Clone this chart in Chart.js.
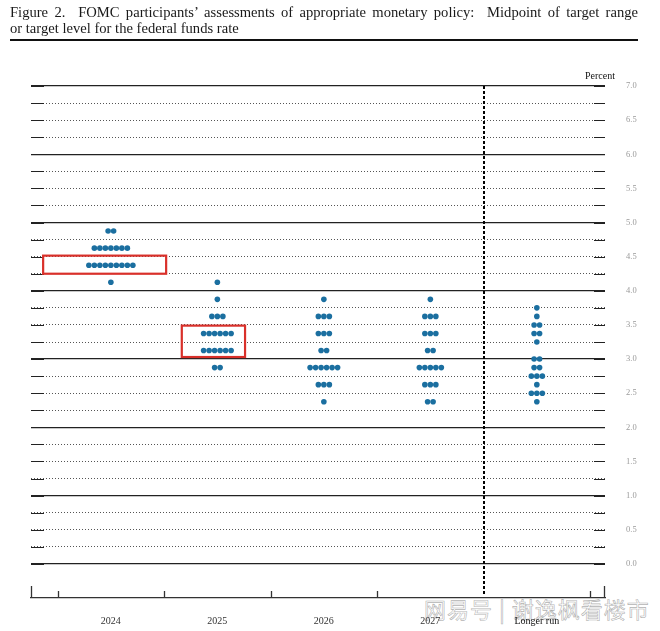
<!DOCTYPE html>
<html lang="en">
<head>
<meta charset="UTF-8">
<title>FOMC dot plot</title>
<script src="https://cdn.jsdelivr.net/npm/chart.js@4.4.1/dist/chart.umd.min.js"></script>
<style>
  body { margin: 0; background: #fff; }
  .wrap { position: relative; width: 660px; height: 631px; overflow: hidden; }
  #grafico { position: absolute; left: 0; top: 0; }
  .titulo {
    position: absolute; left: 10px; top: 4px; width: 628px;
    font-family: 'Liberation Serif', serif; font-size: 14.6px; line-height: 16px; color: #1a1a1a;
  }
  .titulo .l1 { text-align: justify; text-align-last: justify; }
  .regua { position: absolute; left: 10px; top: 39px; width: 628px; height: 2px; background: #111; }
  /* marca d'agua do repost, fica atras do canvas */
  .marca {
    position: absolute; left: 424px; top: 592px;
    font-family: 'Noto Sans CJK SC', sans-serif; font-size: 22px; letter-spacing: 1px;
    color: rgba(255,255,255,0.5); -webkit-text-stroke: 0.6px rgba(120,120,120,0.6);
  }
</style>
</head>
<body>
<div class="wrap">
  <div class="marca">网易号 | 谢逸枫看楼市</div>
  <canvas id="grafico" width="660" height="631"></canvas>
  <div class="titulo">
    <div class="l1">Figure 2.&nbsp; FOMC participants’ assessments of appropriate monetary policy:&nbsp; Midpoint of target range</div>
    <div>or target level for the federal funds rate</div>
  </div>
  <div class="regua"></div>
</div>

<script>
// categorias e pontos (nivel da taxa, quantidade de participantes)
const categories = ['2024', '2025', '2026', '2027', 'Longer run'];

const levels2024 = [4.875, 4.625, 4.375, 4.125];
const counts2024 = [2, 7, 9, 1];

const levels2025 = [4.125, 3.875, 3.625, 3.375, 3.125, 2.875];
const counts2025 = [1, 1, 3, 6, 6, 2];

const levels2026 = [3.875, 3.625, 3.375, 3.125, 2.875, 2.625, 2.375];
const counts2026 = [1, 3, 3, 2, 6, 3, 1];

const levels2027 = [3.875, 3.625, 3.375, 3.125, 2.875, 2.625, 2.375];
const counts2027 = [1, 3, 3, 2, 5, 3, 2];

const levelsLonger = [3.75, 3.625, 3.5, 3.375, 3.25, 3.0, 2.875, 2.75, 2.625, 2.5, 2.375];
const countsLonger = [1, 1, 2, 2, 1, 2, 2, 3, 1, 3, 1];

const yTickLabels = ['0.0', '0.5', '1.0', '1.5', '2.0', '2.5', '3.0', '3.5', '4.0', '4.5', '5.0', '5.5', '6.0', '6.5', '7.0'];

// caixas vermelhas (em unidades dos eixos)
const highlights = [
  { x0: -0.636, x1: 0.519, y0: 4.25, y1: 4.515 },
  { x0: 0.666, x1: 1.26, y0: 3.03, y1: 3.49 }
];

const dotStep = 5.5 / 106.5; // distancia entre bolinhas, em unidades de categoria
const gridStep = 0.25;

function dotsFor(col, levels, counts) {
  const pts = [];
  levels.forEach((lv, k) => {
    const n = counts[k];
    for (let j = 0; j < n; j++) {
      pts.push({ x: col + (j - (n - 1) / 2) * dotStep, y: lv });
    }
  });
  return pts;
}

const allDots = [
  ...dotsFor(0, levels2024, counts2024),
  ...dotsFor(1, levels2025, counts2025),
  ...dotsFor(2, levels2026, counts2026),
  ...dotsFor(3, levels2027, counts2027),
  ...dotsFor(4, levelsLonger, countsLonger)
];

const isWhole = v => Math.abs(v - Math.round(v)) < 1e-6;

const extras = {
  id: 'extras',
  beforeDatasetsDraw(chart) {
    const { ctx, chartArea: a, scales: { x, y } } = chart;
    ctx.save();
    // trechos solidos nas pontas das linhas
    ctx.strokeStyle = '#222';
    ctx.lineWidth = 1.2;
    for (let v = 0; v <= 7 + 1e-9; v += gridStep) {
      const py = Math.round(y.getPixelForValue(v)) + 0.5;
      ctx.beginPath();
      ctx.moveTo(a.left, py); ctx.lineTo(a.left + 13, py);
      ctx.moveTo(a.right - 11, py); ctx.lineTo(a.right, py);
      ctx.stroke();
    }
    // marcas do eixo x (para cima)
    ctx.strokeStyle = '#333';
    ctx.lineWidth = 1.3;
    [-0.5, 0.5, 1.5, 2.5, 4.5].forEach(b => {
      const px = Math.round(x.getPixelForValue(b)) + 0.5;
      ctx.beginPath(); ctx.moveTo(px, a.bottom); ctx.lineTo(px, a.bottom - 7); ctx.stroke();
    });
    [a.left + 0.5, a.right - 0.5].forEach(px => {
      ctx.beginPath(); ctx.moveTo(px, a.bottom); ctx.lineTo(px, a.bottom - 12); ctx.stroke();
    });
    // divisoria tracejada antes de "Longer run"
    const dx = Math.round(x.getPixelForValue(3.5));
    ctx.strokeStyle = '#000';
    ctx.lineWidth = 2;
    ctx.setLineDash([3, 2]);
    ctx.beginPath(); ctx.moveTo(dx, y.getPixelForValue(7)); ctx.lineTo(dx, a.bottom - 2); ctx.stroke();
    ctx.restore();
  },
  afterDatasetsDraw(chart) {
    const { ctx, chartArea: a, scales: { x, y } } = chart;
    ctx.save();
    ctx.strokeStyle = '#d9302a';
    ctx.lineWidth = 2.2;
    highlights.forEach(h => {
      const l = x.getPixelForValue(h.x0), r = x.getPixelForValue(h.x1);
      const t = y.getPixelForValue(h.y1), b = y.getPixelForValue(h.y0);
      ctx.strokeRect(l, t, r - l, b - t);
    });
    ctx.fillStyle = '#111';
    ctx.font = '10px "Liberation Serif", serif';
    ctx.textAlign = 'center';
    ctx.textBaseline = 'middle';
    ctx.fillText('Percent', a.right - 5, a.top - 10);
    ctx.restore();
  }
};

new Chart(document.getElementById('grafico'), {
  type: 'scatter',
  data: {
    datasets: [{
      data: allDots,
      backgroundColor: '#1b6fa0',
      borderColor: '#1b6fa0',
      borderWidth: 0,
      pointRadius: 2.8,
      pointHoverRadius: 2.8
    }]
  },
  options: {
    responsive: false,
    animation: false,
    layout: { padding: { top: 86, left: 31, right: 0, bottom: 0 } },
    plugins: { legend: { display: false }, tooltip: { enabled: false } },
    scales: {
      x: {
        type: 'linear',
        min: -0.75,
        max: 4.64,
        afterBuildTicks: s => { s.ticks = categories.map((c, i) => ({ value: i })); },
        afterFit: s => { s.height = 33; },
        grid: { display: false, drawTicks: false },
        border: { display: true, color: '#333', width: 1.3 },
        ticks: {
          padding: 17,
          color: c => c.tick.value === 4 ? '#111' : '#333',
          font: { family: 'Liberation Serif', size: 10 },
          callback: v => categories[v]
        }
      },
      y: {
        type: 'linear',
        position: 'right',
        min: -0.5,
        max: 7,
        afterBuildTicks: s => {
          const t = [];
          for (let v = 0; v <= 7 + 1e-9; v += gridStep) t.push({ value: v });
          s.ticks = t;
        },
        afterFit: s => { s.width = 55; },
        grid: {
          drawTicks: false,
          color: c => isWhole(c.tick.value) ? '#222' : '#555',
          lineWidth: c => isWhole(c.tick.value) ? 1.2 : 1
        },
        border: {
          display: false,
          dash: c => isWhole(c.tick.value) ? [] : [1, 2]
        },
        ticks: {
          padding: 21,
          color: '#9a9a9a',
          font: { family: 'Liberation Serif', size: 8.5 },
          callback: v => yTickLabels.find(l => Math.abs(Number(l) - v) < 1e-6) || ''
        }
      }
    }
  },
  plugins: [extras]
});
</script>
</body>
</html>
